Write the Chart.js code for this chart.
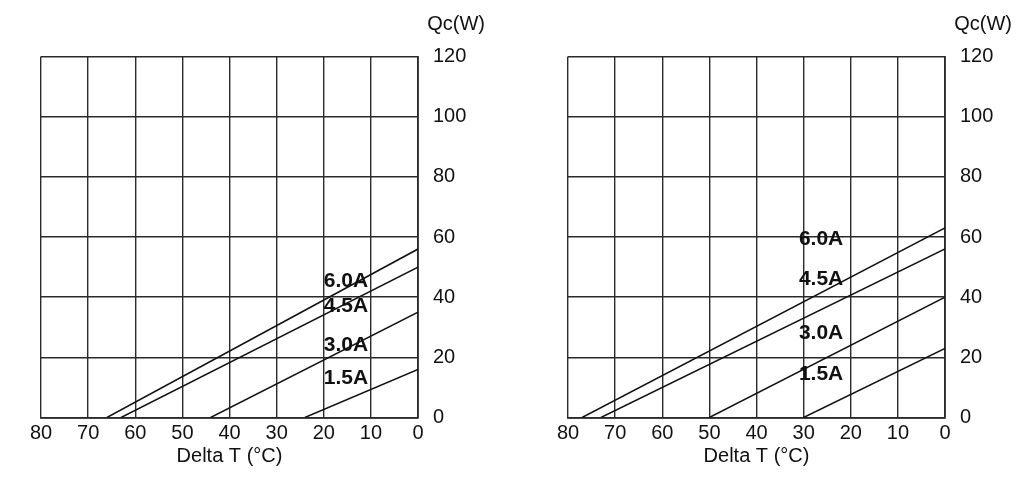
<!DOCTYPE html>
<html>
<head>
<meta charset="utf-8">
<script src="https://cdn.jsdelivr.net/npm/chart.js@4.4.1/dist/chart.umd.min.js"></script>
<style>
  html, body { margin: 0; padding: 0; background: #fff; }
  #wrap { position: relative; width: 1024px; height: 497px; overflow: hidden; }
  canvas { position: absolute; top: 0; }
  #leftChart { left: 0; }
  #rightChart { left: 527px; }
</style>
</head>
<body>
<div id="wrap">
  <canvas id="leftChart" width="497" height="497"></canvas>
  <canvas id="rightChart" width="497" height="497"></canvas>
</div>
<script>
// curve names (drive current)
const currents = ["6.0A", "4.5A", "3.0A", "1.5A"];

// left chart: Delta T where Qc = 0, and Qc at Delta T = 0
const leftZeroDT = [66, 63, 44, 24];
const leftMaxQc = [56, 50, 35, 16];
// where the current names sit (Delta T, Qc)
const leftTagDT = [20, 20, 20, 20];
const leftTagQc = [45.2, 37.1, 24.1, 13.2];

// right chart
const rightZeroDT = [77, 73, 50, 30];
const rightMaxQc = [63, 56, 40, 23];
const rightTagDT = [31, 31, 31, 31];
const rightTagQc = [59.3, 45.9, 28.0, 14.5];

// axes
const deltaTTicks = [0, 10, 20, 30, 40, 50, 60, 70, 80];
const qcTicks = [0, 20, 40, 60, 80, 100, 120];

const FONT = "'Liberation Sans', Arial, sans-serif";
const GRID = "#2a2a2a";

/* Curve names drawn at data positions */
const tagPlugin = {
    id: "curveTags",
    afterDatasetsDraw(chart, args, opts) {
        const { ctx, scales } = chart;
        ctx.save();
        ctx.font = "bold 21px " + FONT;
        ctx.fillStyle = "#111";
        ctx.textAlign = "left";
        ctx.textBaseline = "middle";
        opts.names.forEach((name, i) => {
            ctx.fillText(name, scales.x.getPixelForValue(opts.dt[i]), scales.y.getPixelForValue(opts.qc[i]));
        });
        ctx.restore();
    }
};

function makeChart(id, zeroDT, maxQc, tagDT, tagQc) {
    const datasets = currents.map((name, i) => ({
        label: name,
        data: [{ x: zeroDT[i], y: 0 }, { x: 0, y: maxQc[i] }],
        borderColor: "#111",
        borderWidth: 1.5,
        pointRadius: 0,
        fill: false
    }));

    return new Chart(document.getElementById(id), {
        type: "line",
        data: { datasets },
        plugins: [tagPlugin],
        options: {
            responsive: false,
            animation: false,
            layout: { padding: { left: 41, right: 12, top: 0, bottom: 0 } },
            plugins: {
                legend: { display: false },
                tooltip: { enabled: false },
                title: {
                    display: true,
                    text: "Qc(W)",
                    align: "end",
                    color: "#111",
                    font: { family: FONT, size: 20, weight: "normal" },
                    padding: { top: 12, bottom: 20.5 }
                },
                curveTags: { names: currents, dt: tagDT, qc: tagQc }
            },
            scales: {
                x: {
                    type: "linear",
                    reverse: true,
                    min: 0,
                    max: 80,
                    afterBuildTicks: s => { s.ticks = deltaTTicks.map(v => ({ value: v })); },
                    afterFit: s => { s.height = 79.5; },
                    grid: { color: GRID, lineWidth: 1.4, drawTicks: false },
                    border: { color: GRID, width: 1.8 },
                    ticks: { color: "#111", padding: 3.5, font: { family: FONT, size: 20 } },
                    title: {
                        display: true,
                        text: "Delta T (°C)",
                        color: "#111",
                        font: { family: FONT, size: 20 },
                        padding: { top: 0, bottom: 29 }
                    }
                },
                y: {
                    type: "linear",
                    position: "right",
                    min: 0,
                    max: 120,
                    afterBuildTicks: s => { s.ticks = qcTicks.map(v => ({ value: v })); },
                    afterFit: s => { s.width = 67; },
                    grid: { color: GRID, lineWidth: 1.4, drawTicks: false },
                    border: { color: GRID, width: 1.8 },
                    ticks: { color: "#111", padding: 15, font: { family: FONT, size: 20 } }
                }
            }
        }
    });
}

makeChart("leftChart", leftZeroDT, leftMaxQc, leftTagDT, leftTagQc);
makeChart("rightChart", rightZeroDT, rightMaxQc, rightTagDT, rightTagQc);
</script>
</body>
</html>
